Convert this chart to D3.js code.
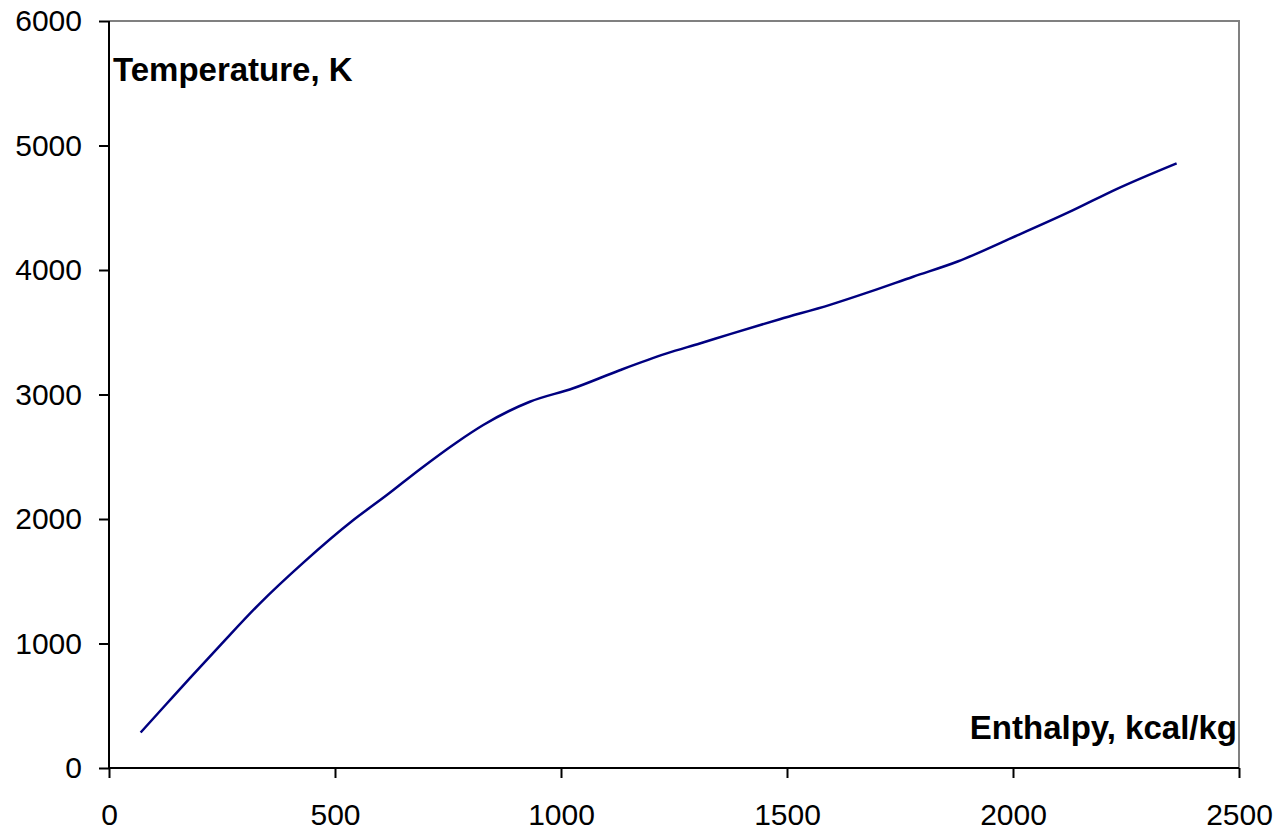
<!DOCTYPE html>
<html>
<head>
<meta charset="utf-8">
<script src="https://cdn.jsdelivr.net/npm/d3@7"></script>
<style>
  body { margin: 0; background: #fff; }
  svg { display: block; font-family: Arial, "Liberation Sans", sans-serif; }
</style>
</head>
<body>
<div id="chart"></div>
<script>
// data
var enthalpy = [70, 128, 179, 246, 334, 430, 540, 614, 688, 769, 828, 931, 1027,
  1130, 1234, 1307, 1374, 1484, 1595, 1684, 1779, 1879, 1986, 2133, 2229, 2362];
var temperature = [285, 518, 722, 985, 1323, 1650, 1990, 2190, 2400, 2615, 2755,
  2942, 3050, 3195, 3330, 3410, 3485, 3605, 3720, 3826, 3946, 4070, 4240, 4480, 4650, 4857];
var xTicks = [0, 500, 1000, 1500, 2000, 2500];
var yTicks = [0, 1000, 2000, 3000, 4000, 5000, 6000];

var svgWidth = 1278;
var svgHeight = 834;

var margin = { top: 21, right: 39, bottom: 66, left: 109 };
var width = svgWidth - margin.left - margin.right;
var height = svgHeight - margin.top - margin.bottom;

var svg = d3.select("#chart")
    .append("svg")
    .attr("width", svgWidth)
    .attr("height", svgHeight);

var chartGroup = svg.append("g")
    .attr("transform", `translate(${margin.left}, ${margin.top})`);

var xScale = d3.scaleLinear().domain([0, 2500]).range([0, width]);
var yScale = d3.scaleLinear().domain([0, 6000]).range([height, 0]);

// gray frame on top and right
chartGroup.append("path")
    .attr("d", `M0,0H${width}V${height}`)
    .attr("fill", "none")
    .attr("stroke", "#808080")
    .attr("stroke-width", 2);

var xAxis = d3.axisBottom(xScale).tickValues(xTicks).tickSize(10).tickPadding(26)
    .tickFormat(d3.format("d"));
var yAxis = d3.axisLeft(yScale).tickValues(yTicks).tickSize(10).tickPadding(17)
    .tickFormat(d3.format("d"));

var gx = chartGroup.append("g")
    .attr("transform", `translate(0, ${height})`)
    .call(xAxis);

var gy = chartGroup.append("g")
    .call(yAxis);

[gx, gy].forEach(function(g) {
    g.select(".domain").attr("stroke", "#000").attr("stroke-width", 2)
        .attr("d", g === gx ? `M0,0H${width}` : `M0,${height}V0`);
    g.selectAll(".tick line").attr("stroke", "#000").attr("stroke-width", 2);
    g.selectAll(".tick text")
        .attr("fill", "#000")
        .attr("font-size", "30px")
        .attr("font-family", "Arial, 'Liberation Sans', sans-serif");
});

// line
var points = enthalpy.map(function(e, i) { return [e, temperature[i]]; });

var line = d3.line()
    .x(function(d) { return xScale(d[0]); })
    .y(function(d) { return yScale(d[1]); })
    .curve(d3.curveMonotoneX);

chartGroup.append("path")
    .datum(points)
    .attr("d", line)
    .attr("fill", "none")
    .attr("stroke", "#000080")
    .attr("stroke-width", 2.5);

// axis titles
chartGroup.append("text")
    .attr("x", 4)
    .attr("y", 60)
    .attr("font-size", "33px")
    .attr("font-weight", "bold")
    .text("Temperature, K");

chartGroup.append("text")
    .attr("x", width - 2)
    .attr("y", 718)
    .attr("text-anchor", "end")
    .attr("font-size", "33px")
    .attr("font-weight", "bold")
    .text("Enthalpy, kcal/kg");
</script>
</body>
</html>
